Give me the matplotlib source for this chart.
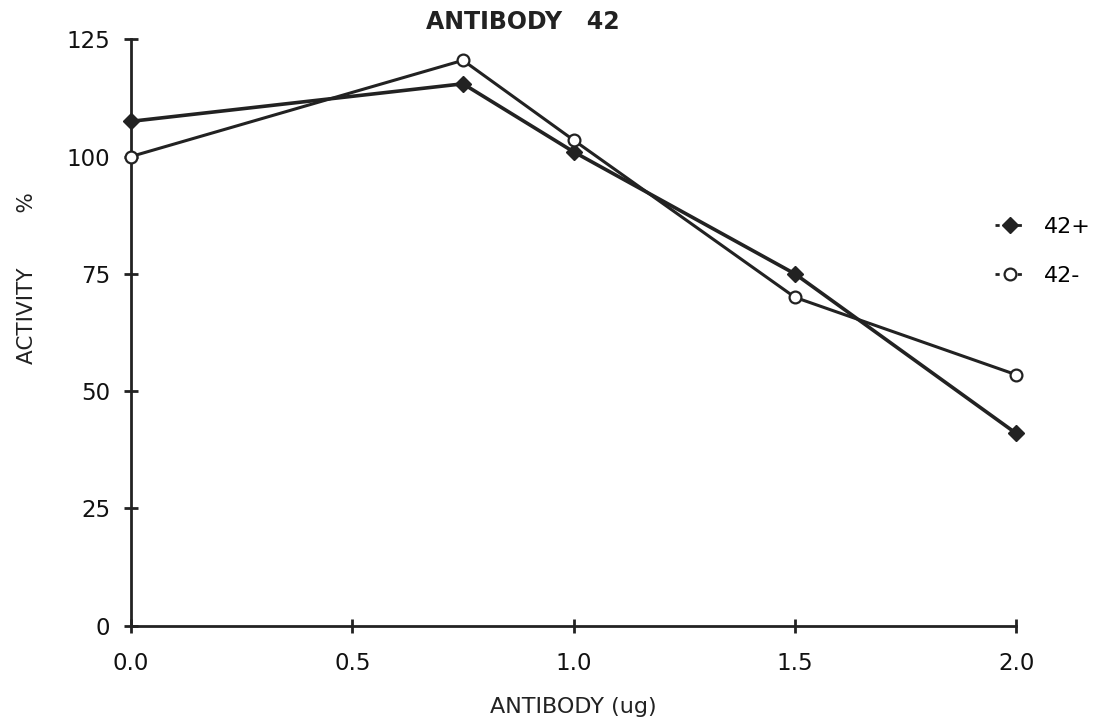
import matplotlib.pyplot as plt
from matplotlib.lines import Line2D

# antibody amount (ug)
dose = [0.0, 0.75, 1.0, 1.5, 2.0]

# activity %
act_plus = [107.5, 115.5, 101.0, 75.0, 41.0]
act_minus = [100.0, 120.5, 103.5, 70.0, 53.5]

xticks = [0.0, 0.5, 1.0, 1.5, 2.0]
yticks = [0, 25, 50, 75, 100, 125]

plt.rcParams['font.family'] = ['DejaVu Sans']

fig = plt.figure(figsize=(11.01, 7.26), dpi=100)
ax = fig.add_axes([0.119, 0.138, 0.804, 0.808])

ax.plot(dose, act_plus, color='#222222', lw=2.6, marker='D', ms=8,
        mfc='#222222', mec='#222222', zorder=3, clip_on=False)
ax.plot(dose, act_minus, color='#222222', lw=2.2, marker='o', ms=8.5,
        mfc='white', mec='#222222', mew=1.6, zorder=4, clip_on=False)

ax.set_xlim(0, 2.0)
ax.set_ylim(0, 125)
ax.set_xticks(xticks)
ax.set_xticklabels(['0.0', '0.5', '1.0', '1.5', '2.0'])
ax.set_yticks(yticks)

for s in ['top', 'right']:
    ax.spines[s].set_visible(False)
for s in ['left', 'bottom']:
    ax.spines[s].set_linewidth(2)
    ax.spines[s].set_color('#222222')

ax.tick_params(axis='both', direction='inout', length=10, width=2,
               colors='#222222', labelsize=16.5, labelcolor='#111111')
ax.tick_params(axis='x', pad=14)
ax.tick_params(axis='y', pad=10)

fig.text(0.475, 0.97, 'ANTIBODY   42', fontsize=17, fontweight='bold',
         color='#222222', ha='center', va='center')
ax.set_xlabel('ANTIBODY (ug)', fontsize=16, labelpad=16, color='#222222')
ax.set_ylabel('ACTIVITY        %', fontsize=15.5, color='#222222')
ax.yaxis.set_label_coords(-0.106, 0.593)

handles = [
    Line2D([], [], color='#222222', lw=2, ls=(0, (1.5, 2.5)), marker='D', ms=8,
           mfc='#222222', mec='#222222'),
    Line2D([], [], color='#222222', lw=2, ls=(0, (1.5, 2.5)), marker='o', ms=8.5,
           mfc='white', mec='#222222', mew=1.6),
]
fig.legend(handles, ['42+', '42-'], loc='center left',
           bbox_to_anchor=(0.904, 0.654), bbox_transform=fig.transFigure,
           frameon=False, fontsize=16, handlelength=1.3, labelspacing=1.3,
           handletextpad=0.9, borderpad=0, borderaxespad=0)

fig.savefig('out.png', dpi=100)
